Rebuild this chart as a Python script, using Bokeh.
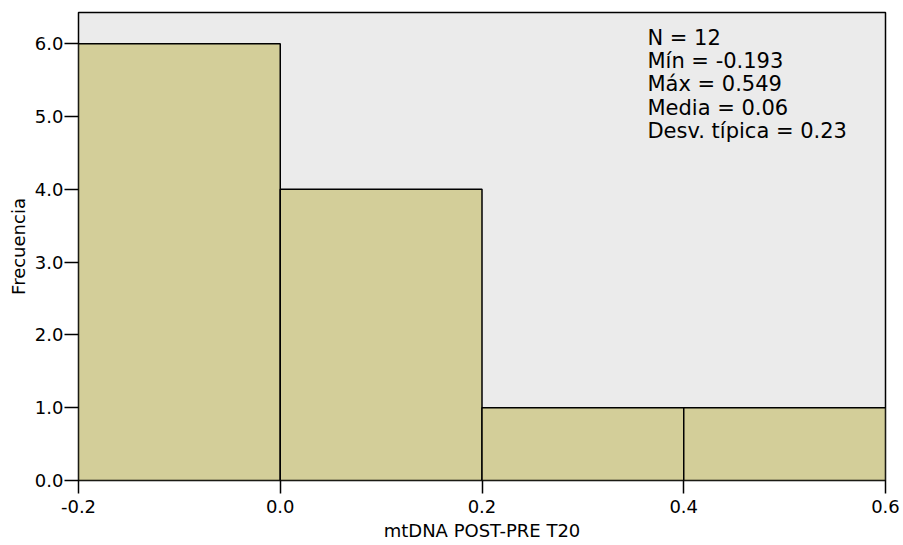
from bokeh.plotting import figure
from bokeh.models import FixedTicker, NumeralTickFormatter, Range1d, ColumnDataSource
from bokeh.core.properties import value
from bokeh.embed import file_html
from bokeh.resources import INLINE

# Data
bin_left = [-0.2, 0.0, 0.2, 0.4]
bin_right = [0.0, 0.2, 0.4, 0.6]
counts = [6, 4, 1, 1]
x_ticks = [-0.2, 0.0, 0.2, 0.4, 0.6]
y_ticks = [0, 1, 2, 3, 4, 5, 6]
stats_lines = ["N = 12", "Mín = -0.193", "Máx = 0.549", "Media = 0.06", "Desv. típica = 0.23"]

FONT = "DejaVu Sans"
BAR = "#d3ce99"
BG = "#ebebeb"

p = figure(width=903, height=545, output_backend="svg", toolbar_location=None,
           x_range=Range1d(-0.2, 0.6), y_range=Range1d(0, 6.43),
           min_border_left=78, min_border_right=18, min_border_top=12, min_border_bottom=65)
p.background_fill_color = BG
p.border_fill_color = "white"
p.outline_line_color = "black"
p.outline_line_width = 1.5
p.grid.visible = False

src = ColumnDataSource(dict(left=bin_left, right=bin_right, top=counts, bottom=[0] * len(counts)))
p.quad(left="left", right="right", top="top", bottom="bottom", source=src,
       fill_color=BAR, line_color="black", line_width=1.5)

for ax in (p.xaxis[0], p.yaxis[0]):
    ax.axis_line_color = None
    ax.major_tick_in = 0
    ax.minor_tick_line_color = None
    ax.major_tick_line_color = "black"
    ax.major_tick_line_width = 1.5
    ax.major_label_text_font = FONT
    ax.major_label_text_font_size = "18px"
    ax.major_label_text_color = "black"
    ax.axis_label_text_font = FONT
    ax.axis_label_text_font_size = "18px"
    ax.axis_label_text_font_style = "normal"
    ax.axis_label_text_color = "black"
    ax.formatter = NumeralTickFormatter(format="0.0")

p.xaxis.ticker = FixedTicker(ticks=x_ticks)
p.yaxis.ticker = FixedTicker(ticks=y_ticks)
p.xaxis.major_tick_out = 13
p.yaxis.major_tick_out = 14
p.xaxis.major_label_standoff = 6
p.yaxis.major_label_standoff = 1
p.xaxis.axis_label = "mtDNA POST-PRE T20"
p.yaxis.axis_label = "Frecuencia"
p.xaxis.axis_label_standoff = 4
p.yaxis.axis_label_standoff = 3

n = len(stats_lines)
p.text(x=[0.364] * n, y=[6.25] * n, text=stats_lines,
       y_offset=[23.3 * i for i in range(n)],
       text_font=value(FONT), text_font_size="21px", text_color="black",
       text_baseline="top", text_align="left")

open("out.html", "w").write(file_html(p, INLINE))
